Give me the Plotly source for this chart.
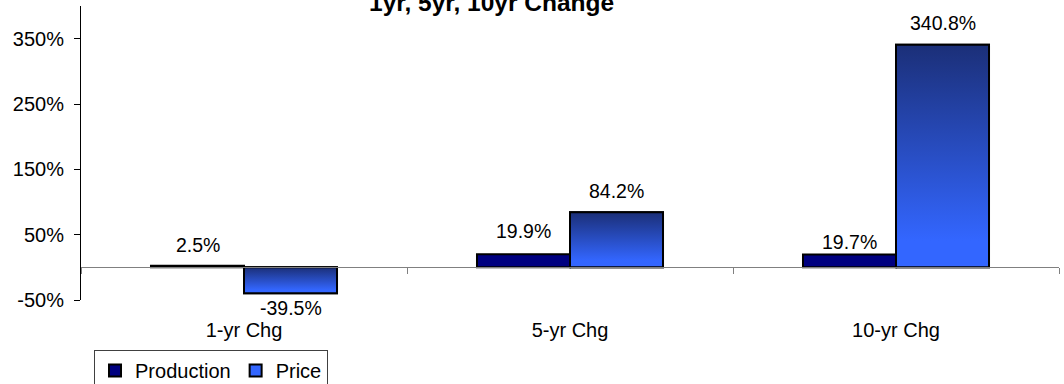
import plotly.graph_objects as go

# Percent change by horizon
categories = ["1-yr Chg", "5-yr Chg", "10-yr Chg"]
production = [2.5, 19.9, 19.7]
price = [-39.5, 84.2, 340.8]
y_ticks = [-50, 50, 150, 250, 350]

# Label offsets (px) from the bar end
production_label_shift = [21, 23, 12]
price_label_shift = [-15, 21, 21.5]

FONT = "Liberation Sans, Arial, sans-serif"
W = 0.2853  # bar width in category units
xs = list(range(len(categories)))

fig = go.Figure()

fig.add_trace(go.Bar(
    x=xs, y=production, name="Production", offset=-W, width=W,
    marker=dict(color="#000080", line=dict(color="black", width=2)),
))
fig.add_trace(go.Bar(
    x=xs, y=price, name="Price", offset=0, width=W,
    marker=dict(color="#3366ff", line=dict(color="black", width=2)),
))

# Gradient fill for the price bars
for i, v in zip(xs, price):
    fig.add_trace(go.Scatter(
        x=[i, i, i + W, i + W, i], y=[0, v, v, 0, 0],
        mode="lines", fill="toself",
        fillgradient=dict(type="vertical",
                          colorscale=[[0, "#3366ff"], [0.12, "#3366ff"],
                                      [1, "#1b2f78"]]),
        line=dict(color="black", width=2),
        showlegend=False, hoverinfo="skip",
    ))

annotations = []
for i, v, s in zip(xs, production, production_label_shift):
    annotations.append(dict(x=i - W / 2, y=v, xref="x", yref="y", text=f"{v:.1f}%",
                            showarrow=False, yanchor="middle", yshift=s,
                            font=dict(family=FONT, size=19.5, color="black")))
for i, v, s in zip(xs, price, price_label_shift):
    annotations.append(dict(x=i + W / 2, y=v, xref="x", yref="y", text=f"{v:.1f}%",
                            showarrow=False, yanchor="middle", yshift=s,
                            font=dict(family=FONT, size=19.5, color="black")))

annotations.append(dict(
    x=0.42, y=1, xref="paper", yref="paper", text="<b>1yr, 5yr, 10yr Change</b>",
    showarrow=False, yanchor="middle", xanchor="center", yshift=4,
    font=dict(family=FONT, size=24.5, color="black"),
))

ymin, ymax = -50, 400

fig.update_layout(
    width=1064, height=384,
    margin=dict(l=81, r=5, t=6, b=84, autoexpand=False),
    paper_bgcolor="white", plot_bgcolor="white",
    barmode="overlay",
    showlegend=True,
    legend=dict(
        orientation="h", x=0.0133, y=-0.17, xanchor="left", yanchor="top",
        bordercolor="#404040", borderwidth=1,
        font=dict(family=FONT, size=20, color="black"),
        itemwidth=30,
    ),
    annotations=annotations,
    font=dict(family=FONT, size=20, color="black"),
)

fig.update_xaxes(
    automargin=False,
    range=[-0.5, len(categories) - 0.5],
    tickmode="array", tickvals=xs, ticktext=categories,
    ticks="", showgrid=False, zeroline=False,
    anchor="free", position=(0 - ymin) / (ymax - ymin),
    showline=True, linecolor="#808080", linewidth=1,
    minor=dict(tickmode="array",
               tickvals=[i - 0.5 for i in range(len(categories) + 1)],
               ticks="outside", ticklen=6, tickcolor="#808080", tickwidth=1,
               showgrid=False),
    ticklabelstandoff=45,
    tickfont=dict(family=FONT, size=20, color="black"),
)

fig.update_yaxes(
    automargin=False,
    range=[ymin, ymax],
    tickmode="array", tickvals=y_ticks, ticktext=[f"{t}%" for t in y_ticks],
    ticks="outside", ticklen=6, tickcolor="black", tickwidth=1,
    showline=True, linecolor="black", linewidth=1,
    showgrid=False, zeroline=False,
    ticklabelstandoff=6,
    tickfont=dict(family=FONT, size=20, color="black"),
)

fig.write_html("out.html")
